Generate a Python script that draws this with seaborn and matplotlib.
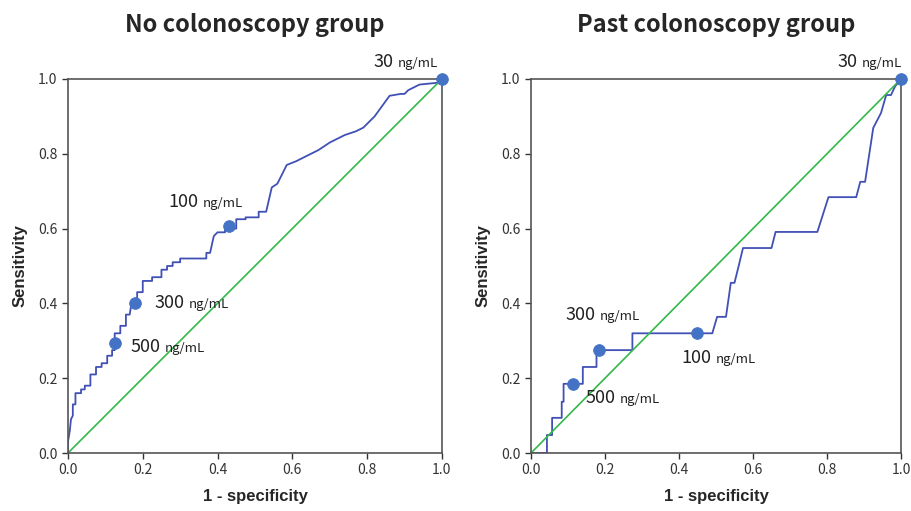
import pandas as pd
import seaborn as sns
import matplotlib.pyplot as plt

# ROC curve, no colonoscopy group
no_fpr = [0, 0, 0.005, 0.008, 0.013, 0.013, 0.02, 0.02, 0.035, 0.035, 0.045, 0.045,
          0.06, 0.06, 0.075, 0.075, 0.09, 0.09, 0.105, 0.105, 0.118, 0.118, 0.125,
          0.125, 0.14, 0.14, 0.155, 0.155, 0.165, 0.17, 0.185, 0.185, 0.2, 0.2,
          0.225, 0.225, 0.25, 0.25, 0.265, 0.265, 0.28, 0.28, 0.30, 0.30, 0.37,
          0.37, 0.38, 0.39, 0.40, 0.42, 0.42, 0.45, 0.45, 0.475, 0.475, 0.51, 0.51,
          0.53, 0.545, 0.56, 0.585, 0.61, 0.63, 0.65, 0.67, 0.70, 0.74, 0.77, 0.79,
          0.82, 0.86, 0.89, 0.90, 0.91, 0.94, 0.99, 1.0]
no_tpr = [0, 0.03, 0.06, 0.09, 0.10, 0.13, 0.13, 0.16, 0.16, 0.17, 0.17, 0.18,
          0.18, 0.21, 0.21, 0.23, 0.23, 0.24, 0.24, 0.26, 0.26, 0.275, 0.275,
          0.32, 0.32, 0.34, 0.34, 0.37, 0.37, 0.40, 0.40, 0.43, 0.43, 0.46,
          0.46, 0.47, 0.47, 0.49, 0.49, 0.50, 0.50, 0.51, 0.51, 0.52, 0.52,
          0.535, 0.535, 0.58, 0.59, 0.59, 0.60, 0.60, 0.625, 0.625, 0.63, 0.63, 0.645,
          0.645, 0.71, 0.72, 0.77, 0.78, 0.79, 0.80, 0.81, 0.83, 0.85, 0.86, 0.87,
          0.90, 0.955, 0.96, 0.96, 0.97, 0.985, 0.99, 1.0]

# ROC curve, past colonoscopy group
past_fpr = [0, 0.043, 0.043, 0.057, 0.057, 0.083, 0.083, 0.088, 0.088, 0.14, 0.14,
            0.177, 0.177, 0.274, 0.274, 0.49, 0.503, 0.527, 0.54, 0.55, 0.562,
            0.573, 0.65, 0.661, 0.774, 0.804, 0.879, 0.89, 0.903, 0.925, 0.946,
            0.96, 0.973, 0.984, 1.0]
past_tpr = [0, 0, 0.048, 0.048, 0.094, 0.094, 0.137, 0.137, 0.185, 0.185, 0.23,
            0.23, 0.275, 0.275, 0.32, 0.32, 0.364, 0.364, 0.455, 0.455, 0.503,
            0.548, 0.548, 0.591, 0.591, 0.684, 0.684, 0.725, 0.725, 0.869, 0.909,
            0.957, 0.957, 0.98, 1.0]

# cut-off points
cut_labels = ['500', '300', '100', '30']
no_cut_fpr = [0.126, 0.18, 0.43, 1.0]
no_cut_tpr = [0.294, 0.40, 0.607, 1.0]
past_cut_fpr = [0.113, 0.183, 0.449, 1.0]
past_cut_tpr = [0.185, 0.275, 0.32, 1.0]

sns.set_style('white', {'axes.edgecolor': '#555555', 'xtick.bottom': True,
                        'ytick.left': True})
plt.rcParams['font.family'] = ['Noto Sans CJK JP', 'DejaVu Sans']

fig = plt.figure(figsize=(9.11, 5.11), dpi=100)
ax1 = fig.add_axes([0.0746, 0.1135, 0.4105, 0.732])
ax2 = fig.add_axes([0.5829, 0.1135, 0.4061, 0.732])

# label offsets in points: (dx, dy, side) side = 'r' means number ends at dx
no_offsets = [(11, -3, 'l'), (14, 0, 'l'), (-22, 17, 'r'), (-35, 12, 'r')]
past_offsets = [(9, -10, 'l'), (-2, 25, 'r'), (-11, -18, 'l'), (-31, 12, 'r')]

panels = [
    (ax1, 'No colonoscopy group', no_fpr, no_tpr, no_cut_fpr, no_cut_tpr, no_offsets),
    (ax2, 'Past colonoscopy group', past_fpr, past_tpr, past_cut_fpr, past_cut_tpr,
     past_offsets),
]

for ax, title, fpr, tpr, cfpr, ctpr, offs in panels:
    curve = pd.DataFrame({'fpr': fpr, 'tpr': tpr})
    sns.lineplot(data=curve, x='fpr', y='tpr', ax=ax, sort=False, estimator=None,
                 color='#4050b5', lw=1.3)
    sns.lineplot(x=[0, 1], y=[0, 1], ax=ax, color='#33b84a', lw=1.2)
    pts = pd.DataFrame({'fpr': cfpr, 'tpr': ctpr})
    sns.scatterplot(data=pts, x='fpr', y='tpr', ax=ax, s=70, color='#4472c4',
                    edgecolor='#4472c4', zorder=5, clip_on=False)
    for lab, x, y, (dx, dy, side) in zip(cut_labels, cfpr, ctpr, offs):
        ha = 'right' if side == 'r' else 'left'
        t = ax.annotate(lab, (x, y), xytext=(dx, dy), textcoords='offset points',
                        fontsize=13, ha=ha, va='center', color='#222222')
        if side == 'r':
            ax.annotate('ng/mL', (x, y), xytext=(dx + 3, dy - 1),
                        textcoords='offset points', fontsize=9.5, ha='left',
                        va='center', color='#222222')
        else:
            fig.canvas.draw()
            w = t.get_window_extent().width * 72 / fig.dpi
            ax.annotate('ng/mL', (x, y), xytext=(dx + w + 3, dy - 1),
                        textcoords='offset points', fontsize=9.5, ha='left',
                        va='center', color='#222222')
    ax.set_xlim(0, 1)
    ax.set_ylim(0, 1)
    ax.set_xticks([0, 0.2, 0.4, 0.6, 0.8, 1.0])
    ax.set_yticks([0, 0.2, 0.4, 0.6, 0.8, 1.0])
    ax.set_xticklabels(['0.0', '0.2', '0.4', '0.6', '0.8', '1.0'])
    ax.set_yticklabels(['0.0', '0.2', '0.4', '0.6', '0.8', '1.0'])
    ax.tick_params(labelsize=10, length=4, width=1, colors='#333333',
                   direction='out')
    ax.set_title(title, fontsize=17, fontweight='bold', pad=34)
    ax.set_xlabel('1 - specificity', fontsize=12, fontweight='bold',
                  family='Liberation Sans', labelpad=8)
    ax.set_ylabel('Sensitivity', fontsize=12, fontweight='bold',
                  family='Liberation Sans', labelpad=8)
    for sp in ax.spines.values():
        sp.set_linewidth(1.2)

plt.savefig('out.png', dpi=100)
